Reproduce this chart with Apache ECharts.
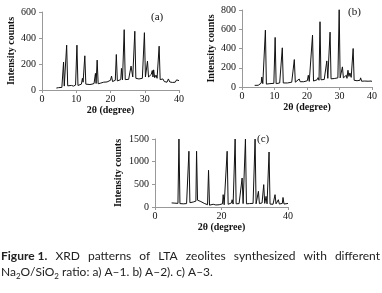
<!DOCTYPE html>
<html>
<head>
<meta charset="utf-8">
<script src="https://cdn.jsdelivr.net/npm/echarts@6/dist/echarts.min.js"></script>
<style>
  html, body { margin: 0; padding: 0; background: #fff; }
  #chart { width: 382px; height: 293px; }
</style>
</head>
<body>
<div id="chart"></div>
<script>
// XRD patterns, [2theta, counts]
const patternA = [
  [4.2, 15], [4.8, 18], [5.3, 14], [5.8, 20], [6.1, 25], [6.3, 215], [6.5, 30], [6.9, 35], [7.2, 345], [7.5, 32],
  [8.0, 28], [8.6, 35], [9.2, 30], [9.8, 38], [10.2, 345], [10.5, 35], [11.0, 40], [11.5, 45], [11.8, 90], [12.0, 60],
  [12.5, 263], [12.8, 45], [13.3, 40], [14.0, 42], [14.6, 45], [15.2, 50], [15.6, 128], [15.8, 50], [16.1, 230], [16.4, 48],
  [17.0, 52], [17.5, 50], [18.0, 60], [18.4, 55], [19.0, 62], [19.5, 58], [20.0, 75], [20.3, 107], [20.6, 65], [21.0, 68],
  [21.4, 75], [21.7, 273], [22.0, 70], [22.5, 72], [23.0, 80], [23.2, 166], [23.5, 78], [24.0, 464], [24.3, 80], [24.8, 85],
  [25.3, 82], [25.8, 95], [26.0, 184], [26.2, 170], [26.5, 100], [26.8, 95], [27.1, 452], [27.4, 90], [27.9, 92], [28.3, 85],
  [28.8, 95], [29.3, 90], [29.7, 100], [29.9, 441], [30.2, 100], [30.5, 110], [30.8, 222], [31.1, 100], [31.5, 95], [31.9, 120],
  [32.2, 150], [32.4, 100], [32.6, 155], [32.9, 95], [33.3, 115], [33.6, 90], [34.2, 337], [34.5, 80], [34.9, 72], [35.3, 85],
  [35.7, 65], [36.1, 80], [36.5, 60], [36.9, 85], [37.3, 62], [37.7, 75], [38.1, 58], [38.5, 70], [38.9, 60], [39.3, 78],
  [39.7, 65], [40.0, 72]
]
const patternB = [
  [3.9, 17], [4.5, 20], [5.0, 18], [5.5, 25], [5.9, 40], [6.1, 104], [6.4, 35], [6.8, 30], [7.2, 591], [7.5, 30],
  [8.0, 28], [8.6, 35], [9.2, 32], [9.8, 38], [10.2, 515], [10.5, 35], [11.0, 38], [11.6, 42], [12.0, 45], [12.4, 407],
  [12.7, 42], [13.3, 45], [14.0, 42], [14.6, 48], [15.3, 50], [15.7, 55], [16.1, 285], [16.4, 50], [17.0, 52], [17.6, 83],
  [17.9, 55], [18.5, 50], [19.0, 55], [19.6, 60], [20.1, 65], [20.4, 122], [20.7, 58], [21.2, 62], [21.7, 539], [22.0, 62],
  [22.6, 68], [23.1, 75], [23.4, 97], [23.7, 70], [24.0, 678], [24.3, 75], [24.8, 80], [25.3, 78], [25.8, 85], [26.1, 271],
  [26.4, 90], [26.8, 95], [27.1, 570], [27.4, 85], [27.9, 80], [28.4, 88], [28.9, 82], [29.5, 95], [29.9, 805], [30.2, 95],
  [30.6, 100], [30.9, 209], [31.2, 95], [31.7, 100], [32.1, 122], [32.3, 90], [32.6, 174], [32.9, 110], [33.2, 146], [33.6, 100],
  [34.2, 400], [34.5, 70], [34.9, 60], [35.4, 65], [35.9, 55], [36.3, 70], [36.5, 95], [36.8, 60], [37.3, 58], [37.8, 62],
  [38.3, 52], [38.8, 60], [39.3, 55], [39.7, 62], [40.0, 58]
]
const patternC = [
  [5.0, 90], [5.5, 100], [6.0, 85], [6.5, 95], [6.9, 80], [7.2, 1500], [7.5, 75], [8.0, 85], [8.5, 70], [9.0, 80],
  [9.5, 75], [10.0, 90], [10.2, 1230], [10.5, 95], [11.0, 120], [11.5, 110], [12.0, 140], [12.3, 130], [12.5, 1230], [12.8, 150],
  [13.3, 140], [13.8, 120], [14.3, 100], [14.8, 80], [15.3, 60], [15.8, 50], [16.1, 810], [16.4, 40], [17.0, 35], [17.5, 60],
  [17.8, 30], [18.3, 45], [18.8, 40], [19.3, 50], [19.8, 45], [20.3, 70], [20.5, 272], [20.8, 50], [21.3, 60], [21.7, 1230],
  [22.0, 60], [22.5, 70], [23.0, 90], [23.2, 160], [23.5, 65], [24.1, 1500], [24.4, 70], [24.8, 60], [25.3, 75], [25.8, 70],
  [26.2, 640], [26.5, 75], [26.9, 80], [27.2, 1500], [27.5, 70], [27.9, 60], [28.4, 75], [28.9, 65], [29.5, 80], [30.1, 1500],
  [30.4, 70], [30.8, 85], [31.1, 346], [31.4, 75], [31.8, 70], [32.2, 90], [32.7, 493], [33.0, 80], [33.4, 235], [33.7, 70],
  [34.3, 1213], [34.6, 65], [35.0, 75], [35.5, 60], [35.9, 90], [36.1, 272], [36.4, 70], [36.9, 80], [37.1, 160], [37.4, 65],
  [37.9, 70], [38.3, 80], [38.5, 210], [38.8, 65], [39.3, 70], [39.7, 75], [40.0, 80]
]
const panelTags = ['(a)', '(b)', '(c)']
const xTitle = '2θ (degree)'
const yTitle = 'Intensity counts'
const captionLead = 'Figure 1.'
const captionLine1 = 'XRD patterns of LTA zeolites synthesized with different'
const captionLine2 = 'Na{s|2}O/SiO{s|2} ratio: a) A–1. b) A–2). c) A–3.'

const serif = 'Liberation Serif'
const capFont = 'Lato'
const capSize = 12
const chart = echarts.init(document.getElementById('chart'))

function xAx(idx, interval) {
  return {
    gridIndex: idx,
    type: 'value',
    min: 0,
    max: 40,
    interval: interval,
    name: xTitle,
    nameLocation: 'middle',
    nameGap: 15,
    nameTextStyle: { fontFamily: serif, fontWeight: 'bold', fontSize: 10, color: '#111' },
    axisLine: { lineStyle: { color: '#999', width: 1 } },
    axisTick: { length: 3, lineStyle: { color: '#999' } },
    axisLabel: { fontFamily: serif, fontSize: 10, color: '#111', margin: 4 },
    splitLine: { show: false }
  }
}
function yAx(idx, max, interval, gap) {
  return {
    gridIndex: idx,
    type: 'value',
    min: 0,
    max: max,
    interval: interval,
    name: yTitle,
    nameLocation: 'middle',
    nameRotate: 90,
    nameGap: gap,
    nameTextStyle: { fontFamily: serif, fontWeight: 'bold', fontSize: 10, color: '#111' },
    axisLine: { show: true, lineStyle: { color: '#999', width: 1 } },
    axisTick: { show: true, length: 3, lineStyle: { color: '#999' } },
    axisLabel: { fontFamily: serif, fontSize: 10, color: '#111', margin: 6, formatter: v => String(v) },
    splitLine: { show: false }
  }
}
function line(idx, data) {
  return {
    type: 'line',
    xAxisIndex: idx,
    yAxisIndex: idx,
    data: data,
    showSymbol: false,
    animation: false,
    lineStyle: { color: '#111', width: 1 }
  }
}

// justified first caption line: spread words over the full width
const ctx = document.createElement('canvas').getContext('2d')
const words = [captionLead].concat(captionLine1.split(' '))
const widths = words.map((w, i) => {
  ctx.font = (i === 0 ? 'bold ' : '') + capSize + 'px ' + capFont
  return ctx.measureText(w).width
})
const lineW = 379
const gapW = (lineW - widths.reduce((a, b) => a + b, 0)) / (words.length - 1)
const capGraphics = []
let cx = 1
words.forEach((w, i) => {
  capGraphics.push({
    type: 'text', x: cx, y: 250,
    style: {
      text: w, fontFamily: capFont, fontSize: capSize, fill: '#222',
      fontWeight: i === 0 ? 'bold' : 'normal'
    }
  })
  cx += widths[i] + gapW
})

chart.setOption({
  animation: false,
  grid: [
    { left: 42, top: 12, width: 137, height: 78 },
    { left: 242, top: 10, width: 130, height: 77 },
    { left: 155, top: 139, width: 133, height: 68 }
  ],
  xAxis: [xAx(0, 10), xAx(1, 10), xAx(2, 20)],
  yAxis: [yAx(0, 600, 200, 26), yAx(1, 800, 200, 26), yAx(2, 1500, 500, 32)],
  series: [line(0, patternA), line(1, patternB), line(2, patternC)],
  graphic: [
    { type: 'text', left: 151, top: 12, style: { text: panelTags[0], font: '11px "Liberation Serif"', fill: '#111' } },
    { type: 'text', left: 348, top: 7, style: { text: panelTags[1], font: '11px "Liberation Serif"', fill: '#111' } },
    { type: 'text', left: 257, top: 134, style: { text: panelTags[2], font: '11px "Liberation Serif"', fill: '#111' } },
    {
      type: 'text', x: 1, y: 265,
      style: {
        text: captionLine2,
        fontFamily: capFont, fontSize: capSize, fill: '#222', lineHeight: 15,
        rich: { s: { fontFamily: capFont, fontSize: 8, verticalAlign: 'bottom', lineHeight: 15, padding: [6, 0, 0, 0] } }
      }
    }
  ].concat(capGraphics)
})
</script>
</body>
</html>
